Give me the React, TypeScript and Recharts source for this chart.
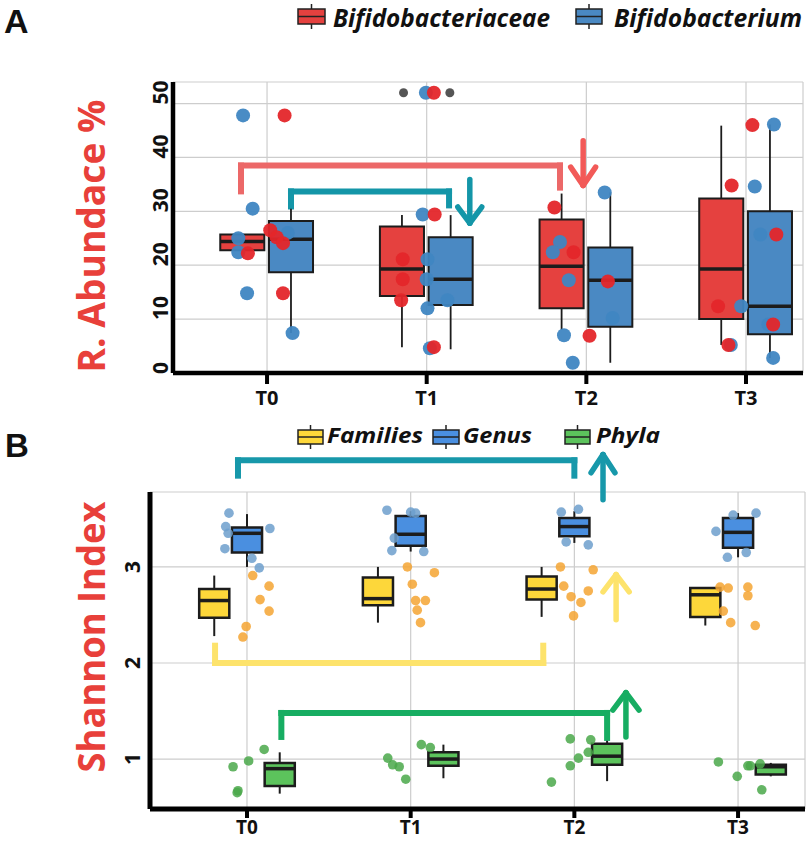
import React from 'react';
import {
  ComposedChart,
  Scatter,
  XAxis,
  YAxis,
  CartesianGrid,
  ReferenceArea,
  ReferenceLine,
} from 'recharts';

// ---------- shared ----------
const timeLabels = ['T0', 'T1', 'T2', 'T3'];
const abundanceTicks = [0, 10, 20, 30, 40, 50];
const shannonTicks = [1, 2, 3];
const timeTicks = [0, 1, 2, 3];

// ---------- Panel A: box stats [min, q1, median, q3, max] ----------
const bifidobacteriaceaeBoxes = [
  [22.8, 22.8, 24.4, 25.7, 25.7],
  [4.8, 14.3, 19.3, 27.2, 29.3],
  [8.0, 12.0, 19.8, 28.5, 33.3],
  [5.2, 10.0, 19.3, 32.4, 45.9],
];
const bifidobacteriumBoxes = [
  [7.4, 18.7, 24.8, 28.2, 30.5],
  [4.4, 12.6, 17.4, 25.2, 29.3],
  [1.9, 8.6, 17.2, 23.3, 33.5],
  [2.8, 7.2, 12.4, 30.0, 46.1],
];

// Panel A individual samples (per time point) and their horizontal jitter
const bifidobacteriaceaeValues = [
  [47.8, 26.5, 25.2, 24.1, 22.2, 14.8],
  [52.0, 29.4, 21.1, 17.4, 13.5, 4.8],
  [30.7, 22.4, 17.0, 6.9],
  [46.0, 34.8, 25.7, 12.4, 9.0, 5.2],
];
const bifidobacteriaceaeJitter = [
  [0.11, 0.02, 0.06, 0.1, -0.12, 0.1],
  [0.045, 0.05, -0.15, -0.15, -0.16, 0.045],
  [-0.2, -0.08, 0.135, 0.02],
  [0.04, -0.09, 0.19, -0.175, 0.17, -0.11],
];
const bifidobacteriumValues = [
  [47.8, 30.5, 26.0, 25.0, 22.4, 14.8, 7.4],
  [52.0, 29.4, 21.1, 17.4, 13.5, 12.0, 4.6],
  [33.5, 24.3, 22.4, 17.2, 10.2, 7.0, 1.9],
  [46.1, 34.6, 25.7, 12.4, 9.0, 5.2, 2.8],
];
const bifidobacteriumJitter = [
  [-0.15, -0.09, 0.13, -0.18, -0.18, -0.125, 0.16],
  [-0.005, -0.025, 0.005, 0.0, 0.13, 0.005, 0.02],
  [0.115, -0.165, -0.21, -0.11, 0.165, -0.14, -0.085],
  [0.175, 0.055, 0.09, -0.03, 0.14, -0.095, 0.17],
];
const outlierValues = [[], [52.0, 52.0], [], []];
const outlierJitter = [[], [-0.145, 0.145], [], []];

// Panel A significance brackets & arrows (data units)
const panelABrackets = [
  { x1: -0.163, x2: 1.835, y: 38.5, leg1: 33.7, leg2: 34.4, color: '#ec6868' },
  { x1: 0.15, x2: 1.14, y: 33.7, leg1: 30.9, leg2: 31.1, color: '#1496a8' },
];
const panelAArrows = [
  { x: 1.98, from: 43.1, to: 34.8, dx: 0.078, dy: 3.4, color: '#f25a58' },
  { x: 1.27, from: 35.9, to: 27.8, dx: 0.075, dy: 3.0, color: '#1496a8' },
];

// ---------- Panel B: box stats [min, q1, median, q3, max] ----------
const familiesBoxes = [
  [2.28, 2.47, 2.65, 2.77, 2.91],
  [2.42, 2.6, 2.67, 2.89, 3.0],
  [2.48, 2.66, 2.77, 2.9, 3.0],
  [2.39, 2.48, 2.71, 2.78, 2.78],
];
const genusBoxes = [
  [3.0, 3.15, 3.35, 3.41, 3.55],
  [3.16, 3.22, 3.34, 3.53, 3.58],
  [3.25, 3.32, 3.42, 3.51, 3.58],
  [3.1, 3.2, 3.36, 3.51, 3.56],
];
const phylaBoxes = [
  [0.64, 0.72, 0.9, 0.96, 1.07],
  [0.8, 0.93, 1.0, 1.07, 1.15],
  [0.77, 0.94, 1.03, 1.16, 1.19],
  [0.82, 0.84, 0.92, 0.94, 0.96],
];

const familiesValues = [
  [2.91, 2.8, 2.66, 2.54, 2.38, 2.27],
  [3.0, 2.94, 2.82, 2.65, 2.65, 2.55, 2.42],
  [3.0, 2.97, 2.8, 2.75, 2.69, 2.63, 2.49],
  [2.79, 2.78, 2.79, 2.7, 2.54, 2.42, 2.39],
];
const familiesJitter = [
  [0.035, 0.135, 0.08, 0.135, -0.005, -0.025],
  [-0.02, 0.145, 0.01, 0.03, 0.09, 0.04, 0.06],
  [-0.085, 0.115, -0.065, 0.085, -0.02, 0.04, -0.005],
  [-0.11, -0.06, 0.06, 0.06, -0.09, -0.045, 0.105],
];
const genusValues = [
  [3.56, 3.42, 3.35, 3.4, 3.19, 3.09, 2.99],
  [3.59, 3.57, 3.56, 3.3, 3.17, 3.16],
  [3.57, 3.6, 3.26, 3.23],
  [3.54, 3.56, 3.37, 3.1, 3.15],
];
const genusJitter = [
  [-0.11, -0.13, -0.115, 0.14, -0.135, 0.03, 0.075],
  [-0.145, 0.0, 0.03, -0.1, -0.115, 0.08],
  [-0.08, 0.025, -0.05, 0.085],
  [-0.03, 0.11, -0.135, -0.065, 0.05],
];
const phylaValues = [
  [1.1, 0.98, 0.92, 0.67, 0.65],
  [1.01, 0.94, 1.15, 1.12, 0.79, 0.92],
  [1.21, 1.2, 1.07, 1.01, 0.93, 0.76],
  [0.97, 0.93, 0.95, 0.82, 0.68, 0.93],
];
const phylaJitter = [
  [0.105, 0.01, -0.085, -0.055, -0.06],
  [-0.14, -0.11, 0.065, 0.12, -0.03, -0.07],
  [-0.025, 0.1, 0.085, 0.025, -0.025, -0.14],
  [-0.12, 0.075, 0.135, -0.005, 0.145, 0.06],
];

const panelBBrackets = [
  { x1: -0.055, x2: 2.0, y: 4.11, leg1: 3.95, leg2: 3.95, color: '#1798aa' },
  { x1: -0.195, x2: 1.81, y: 2.0, leg1: 2.18, leg2: 2.18, color: '#fde36c' },
  { x1: 0.21, x2: 2.2, y: 1.48, leg1: 1.23, leg2: 1.22, color: '#17ad62' },
];
const panelBArrows = [
  { x: 2.175, from: 3.7, to: 4.17, dx: 0.073, dy: 0.19, color: '#1798aa' },
  { x: 2.255, from: 2.45, to: 2.92, dx: 0.08, dy: 0.18, color: '#fde36c' },
  { x: 2.315, from: 1.23, to: 1.69, dx: 0.08, dy: 0.18, color: '#17ad62' },
];

// ---------- helpers ----------
const FONT = '"Open Sans", "Noto Sans", sans-serif';
const LETTER_FONT = '"Liberation Sans", Arial, sans-serif';

function toPoints(values: number[][], jitter: number[][]) {
  return values.flatMap((vals, i) => vals.map((v, j) => ({ x: i + jitter[i][j], y: v })));
}

function boxElements(
  prefix: string,
  stats: number[][],
  offset: number,
  halfW: number,
  fill: string,
  boxStroke: number,
  medStroke: number,
  whiskStroke: number
) {
  const out: any[] = [];
  stats.forEach((s, i) => {
    const c = i + offset;
    const [mn, q1, md, q3, mx] = s;
    if (mn < q1)
      out.push(
        <ReferenceLine
          key={`${prefix}-wl-${i}`}
          segment={[{ x: c, y: mn }, { x: c, y: q1 }]}
          stroke="#1c1c1c"
          strokeWidth={whiskStroke}
          ifOverflow="visible"
        />
      );
    if (mx > q3)
      out.push(
        <ReferenceLine
          key={`${prefix}-wh-${i}`}
          segment={[{ x: c, y: q3 }, { x: c, y: mx }]}
          stroke="#1c1c1c"
          strokeWidth={whiskStroke}
          ifOverflow="visible"
        />
      );
    out.push(
      <ReferenceArea
        key={`${prefix}-box-${i}`}
        x1={c - halfW}
        x2={c + halfW}
        y1={q1}
        y2={q3}
        fill={fill}
        fillOpacity={1}
        stroke="#1c1c1c"
        strokeWidth={boxStroke}
        ifOverflow="visible"
      />
    );
    out.push(
      <ReferenceLine
        key={`${prefix}-med-${i}`}
        segment={[{ x: c - halfW, y: md }, { x: c + halfW, y: md }]}
        stroke="#1c1c1c"
        strokeWidth={medStroke}
        ifOverflow="visible"
      />
    );
  });
  return out;
}

type Bracket = { x1: number; x2: number; y: number; leg1: number; leg2: number; color: string };
type Arrow = { x: number; from: number; to: number; dx: number; dy: number; color: string };

function bracketElements(prefix: string, list: Bracket[], width: number) {
  const out: any[] = [];
  list.forEach((b, i) => {
    const common = { stroke: b.color, strokeWidth: width, ifOverflow: 'visible' as const, strokeLinecap: 'square' as const };
    out.push(<ReferenceLine key={`${prefix}-bl-${i}`} segment={[{ x: b.x1, y: b.leg1 }, { x: b.x1, y: b.y }]} {...common} />);
    out.push(<ReferenceLine key={`${prefix}-bh-${i}`} segment={[{ x: b.x1, y: b.y }, { x: b.x2, y: b.y }]} {...common} />);
    out.push(<ReferenceLine key={`${prefix}-br-${i}`} segment={[{ x: b.x2, y: b.y }, { x: b.x2, y: b.leg2 }]} {...common} />);
  });
  return out;
}

function arrowElements(prefix: string, list: Arrow[], width: number) {
  const out: any[] = [];
  list.forEach((a, i) => {
    const sign = a.from > a.to ? 1 : -1;
    const common = { stroke: a.color, strokeWidth: width, ifOverflow: 'visible' as const, strokeLinecap: 'round' as const };
    out.push(<ReferenceLine key={`${prefix}-as-${i}`} segment={[{ x: a.x, y: a.from }, { x: a.x, y: a.to }]} {...common} />);
    out.push(
      <ReferenceLine key={`${prefix}-a1-${i}`} segment={[{ x: a.x - a.dx, y: a.to + sign * a.dy }, { x: a.x, y: a.to }]} {...common} />
    );
    out.push(
      <ReferenceLine key={`${prefix}-a2-${i}`} segment={[{ x: a.x + a.dx, y: a.to + sign * a.dy }, { x: a.x, y: a.to }]} {...common} />
    );
  });
  return out;
}

const dot = (r: number, fill: string, opacity = 1) => (p: any) =>
  p.cx == null ? <g /> : <circle cx={p.cx} cy={p.cy} r={r} fill={fill} fillOpacity={opacity} />;

const xTick = (dy: number, size: number) => (p: any) => (
  <text x={p.x} y={p.y + dy} textAnchor="middle" fontSize={size} fontWeight={700} fontFamily={FONT} fill="#111">
    {timeLabels[p.payload.value]}
  </text>
);

const yTick = (off: number, anchor: 'start' | 'middle', shift: number) => (p: any) => {
  const cx = p.x - off;
  const cy = p.y + shift;
  return (
    <text
      x={cx}
      y={cy}
      transform={`rotate(-90 ${cx} ${cy})`}
      textAnchor={anchor}
      dominantBaseline="central"
      fontSize={21}
      fontWeight={700}
      fontFamily={FONT}
      fill="#111"
    >
      {p.payload.value}
    </text>
  );
};

const LegendIcon = ({ x, y, w, h, fill }: { x: number; y: number; w: number; h: number; fill: string }) => (
  <g>
    <line x1={x + w / 2} y1={y - 5} x2={x + w / 2} y2={y + h + 5} stroke="#222" strokeWidth={1.5} />
    <rect x={x} y={y} width={w} height={h} fill={fill} stroke="#222" strokeWidth={1.5} />
    <line x1={x} y1={y + h / 2} x2={x + w} y2={y + h / 2} stroke="#222" strokeWidth={1.5} />
  </g>
);

// ---------- colors ----------
const RED_BOX = '#e5413f';
const BLUE_BOX = '#4a89c3';
const RED_DOT = '#e4262a';
const BLUE_DOT = '#3f86c2';
const GRAY_DOT = '#555555';
const FAM_BOX = '#fdd73a';
const GEN_BOX = '#4a8fe0';
const PHY_BOX = '#5cc35c';
const FAM_DOT = '#f5a532';
const GEN_DOT = '#6d9fcd';
const PHY_DOT = '#4aa84a';

// ---------- panel geometry (chart props) ----------
const A_SIZE = { width: 810, height: 410, margin: { top: 82, right: 7, bottom: 7, left: 0 } };
const B_SIZE = { width: 810, height: 432, margin: { top: 82, right: 5, bottom: 3, left: 0 } };
const A_XDOMAIN: [number, number] = [-0.589, 3.357];
const A_YDOMAIN: [number, number] = [0, 54];
const B_XDOMAIN: [number, number] = [-0.5925, 3.409];
const B_YDOMAIN: [number, number] = [0.48, 3.78];

// invisible axes used by the point layers so they share the exact same scales
function hiddenAxes(xDomain: [number, number], yDomain: [number, number], yWidth: number, xTicks: number[], yTicks: number[]) {
  return [
    <XAxis
      key="hx"
      type="number"
      dataKey="x"
      domain={xDomain}
      allowDataOverflow
      ticks={xTicks}
      height={30}
      axisLine={false}
      tickLine={false}
      tick={false}
    />,
    <YAxis
      key="hy"
      type="number"
      dataKey="y"
      domain={yDomain}
      allowDataOverflow
      ticks={yTicks}
      width={yWidth}
      axisLine={false}
      tickLine={false}
      tick={false}
    />,
  ];
}

export default function App() {
  const redPts = toPoints(bifidobacteriaceaeValues, bifidobacteriaceaeJitter);
  const bluePts = toPoints(bifidobacteriumValues, bifidobacteriumJitter);
  const grayPts = toPoints(outlierValues, outlierJitter);
  const famPts = toPoints(familiesValues, familiesJitter);
  const genPts = toPoints(genusValues, genusJitter);
  const phyPts = toPoints(phylaValues, phylaJitter);

  return (
    <div style={{ position: 'absolute', left: 0, top: 0, width: 810, height: 842, background: '#fff' }}>
      {/* Panel A: grid, axes, boxes, annotations */}
      <div style={{ position: 'absolute', left: 0, top: 0 }}>
        <ComposedChart {...A_SIZE}>
          <CartesianGrid stroke="#cdcdcd" strokeWidth={1.2} />
          <XAxis
            type="number"
            dataKey="x"
            domain={A_XDOMAIN}
            allowDataOverflow
            ticks={timeTicks}
            height={30}
            axisLine={{ stroke: '#000', strokeWidth: 4.5 }}
            tickLine={{ stroke: '#000', strokeWidth: 4 }}
            tickSize={11}
            tickMargin={2}
            tick={xTick(19, 20)}
          />
          <YAxis
            type="number"
            dataKey="y"
            domain={A_YDOMAIN}
            allowDataOverflow
            ticks={abundanceTicks}
            width={173}
            axisLine={{ stroke: '#000', strokeWidth: 4.5 }}
            tickLine={false}
            tickSize={0}
            tickMargin={0}
            tick={yTick(13, 'start', 1)}
          />
          {bracketElements('ab', panelABrackets, 6)}
          {arrowElements('aa', panelAArrows, 5.5)}
          {boxElements('red', bifidobacteriaceaeBoxes, -0.155, 0.138, RED_BOX, 2, 3.5, 1.8)}
          {boxElements('blue', bifidobacteriumBoxes, 0.15, 0.138, BLUE_BOX, 2, 3.5, 1.8)}
        </ComposedChart>
      </div>
      {/* Panel A: jittered sample points on top */}
      <div style={{ position: 'absolute', left: 0, top: 0 }}>
        <ComposedChart {...A_SIZE}>
          {hiddenAxes(A_XDOMAIN, A_YDOMAIN, 173, timeTicks, abundanceTicks)}
          <Scatter data={grayPts} isAnimationActive={false} shape={dot(4.5, GRAY_DOT)} />
          <Scatter data={bluePts} isAnimationActive={false} shape={dot(7, BLUE_DOT, 0.95)} />
          <Scatter data={redPts} isAnimationActive={false} shape={dot(7, RED_DOT, 0.95)} />
        </ComposedChart>
      </div>

      {/* Panel B: grid, axes, boxes, annotations */}
      <div style={{ position: 'absolute', left: 0, top: 410 }}>
        <ComposedChart {...B_SIZE}>
          <CartesianGrid stroke="#cdcdcd" strokeWidth={1.2} />
          <XAxis
            type="number"
            dataKey="x"
            domain={B_XDOMAIN}
            allowDataOverflow
            ticks={timeTicks}
            height={30}
            axisLine={{ stroke: '#000', strokeWidth: 5 }}
            tickLine={{ stroke: '#000', strokeWidth: 4 }}
            tickSize={9}
            tickMargin={2}
            tick={xTick(14, 19)}
          />
          <YAxis
            type="number"
            dataKey="y"
            domain={B_YDOMAIN}
            allowDataOverflow
            ticks={shannonTicks}
            width={150}
            axisLine={{ stroke: '#000', strokeWidth: 5 }}
            tickLine={false}
            tickSize={0}
            tickMargin={0}
            tick={yTick(18, 'middle', 0)}
          />
          {bracketElements('bb', panelBBrackets, 6)}
          {arrowElements('ba', panelBArrows, 5.5)}
          {boxElements('fam', familiesBoxes, -0.2, 0.092, FAM_BOX, 2.5, 3.5, 2)}
          {boxElements('gen', genusBoxes, 0, 0.092, GEN_BOX, 2.5, 3.5, 2)}
          {boxElements('phy', phylaBoxes, 0.2, 0.092, PHY_BOX, 2.5, 3.5, 2)}
        </ComposedChart>
      </div>
      {/* Panel B: jittered sample points on top */}
      <div style={{ position: 'absolute', left: 0, top: 410 }}>
        <ComposedChart {...B_SIZE}>
          {hiddenAxes(B_XDOMAIN, B_YDOMAIN, 150, timeTicks, shannonTicks)}
          <Scatter data={genPts} isAnimationActive={false} shape={dot(4.8, GEN_DOT, 0.85)} />
          <Scatter data={famPts} isAnimationActive={false} shape={dot(4.8, FAM_DOT, 0.85)} />
          <Scatter data={phyPts} isAnimationActive={false} shape={dot(4.8, PHY_DOT, 0.85)} />
        </ComposedChart>
      </div>

      {/* Titles, legends and axis titles */}
      <svg
        width={810}
        height={842}
        style={{ position: 'absolute', left: 0, top: 0, pointerEvents: 'none' }}
      >
        <text x={4} y={33} fontSize={34} fontWeight={700} fontFamily={LETTER_FONT} fill="#111">
          A
        </text>
        <text x={5} y={457} fontSize={33} fontWeight={700} fontFamily={LETTER_FONT} fill="#111">
          B
        </text>

        <LegendIcon x={298} y={9} w={27} h={15} fill={RED_BOX} />
        <text x={333} y={27} fontSize={25} fontWeight={700} fontStyle="italic" fontFamily={FONT} fill="#111" textLength={217} lengthAdjust="spacingAndGlyphs">
          Bifidobacteriaceae
        </text>
        <LegendIcon x={576} y={9} w={26} h={15} fill={BLUE_BOX} />
        <text x={614} y={27} fontSize={25} fontWeight={700} fontStyle="italic" fontFamily={FONT} fill="#111" textLength={188} lengthAdjust="spacingAndGlyphs">
          Bifidobacterium
        </text>

        <LegendIcon x={298} y={430} w={25} h={14} fill={FAM_BOX} />
        <text x={327} y={443} fontSize={22} fontWeight={700} fontStyle="italic" fontFamily={FONT} fill="#111" textLength={96} lengthAdjust="spacingAndGlyphs">
          Families
        </text>
        <LegendIcon x={433} y={430} w={26} h={14} fill={GEN_BOX} />
        <text x={463} y={443} fontSize={22} fontWeight={700} fontStyle="italic" fontFamily={FONT} fill="#111" textLength={69} lengthAdjust="spacingAndGlyphs">
          Genus
        </text>
        <LegendIcon x={565} y={430} w={25} h={14} fill={PHY_BOX} />
        <text x={596} y={443} fontSize={22} fontWeight={700} fontStyle="italic" fontFamily={FONT} fill="#111" textLength={64} lengthAdjust="spacingAndGlyphs">
          Phyla
        </text>

        <text
          x={105}
          y={236}
          transform="rotate(-90 105 236)"
          textAnchor="middle"
          fontSize={37}
          fontWeight={700}
          fontFamily={FONT}
          fill="#e8403a"
          textLength={273}
          lengthAdjust="spacingAndGlyphs"
        >
          R. Abundace %
        </text>
        <text
          x={105}
          y={637}
          transform="rotate(-90 105 637)"
          textAnchor="middle"
          fontSize={37}
          fontWeight={700}
          fontFamily={FONT}
          fill="#e8403a"
          textLength={271}
          lengthAdjust="spacingAndGlyphs"
        >
          Shannon Index
        </text>
      </svg>
    </div>
  );
}
